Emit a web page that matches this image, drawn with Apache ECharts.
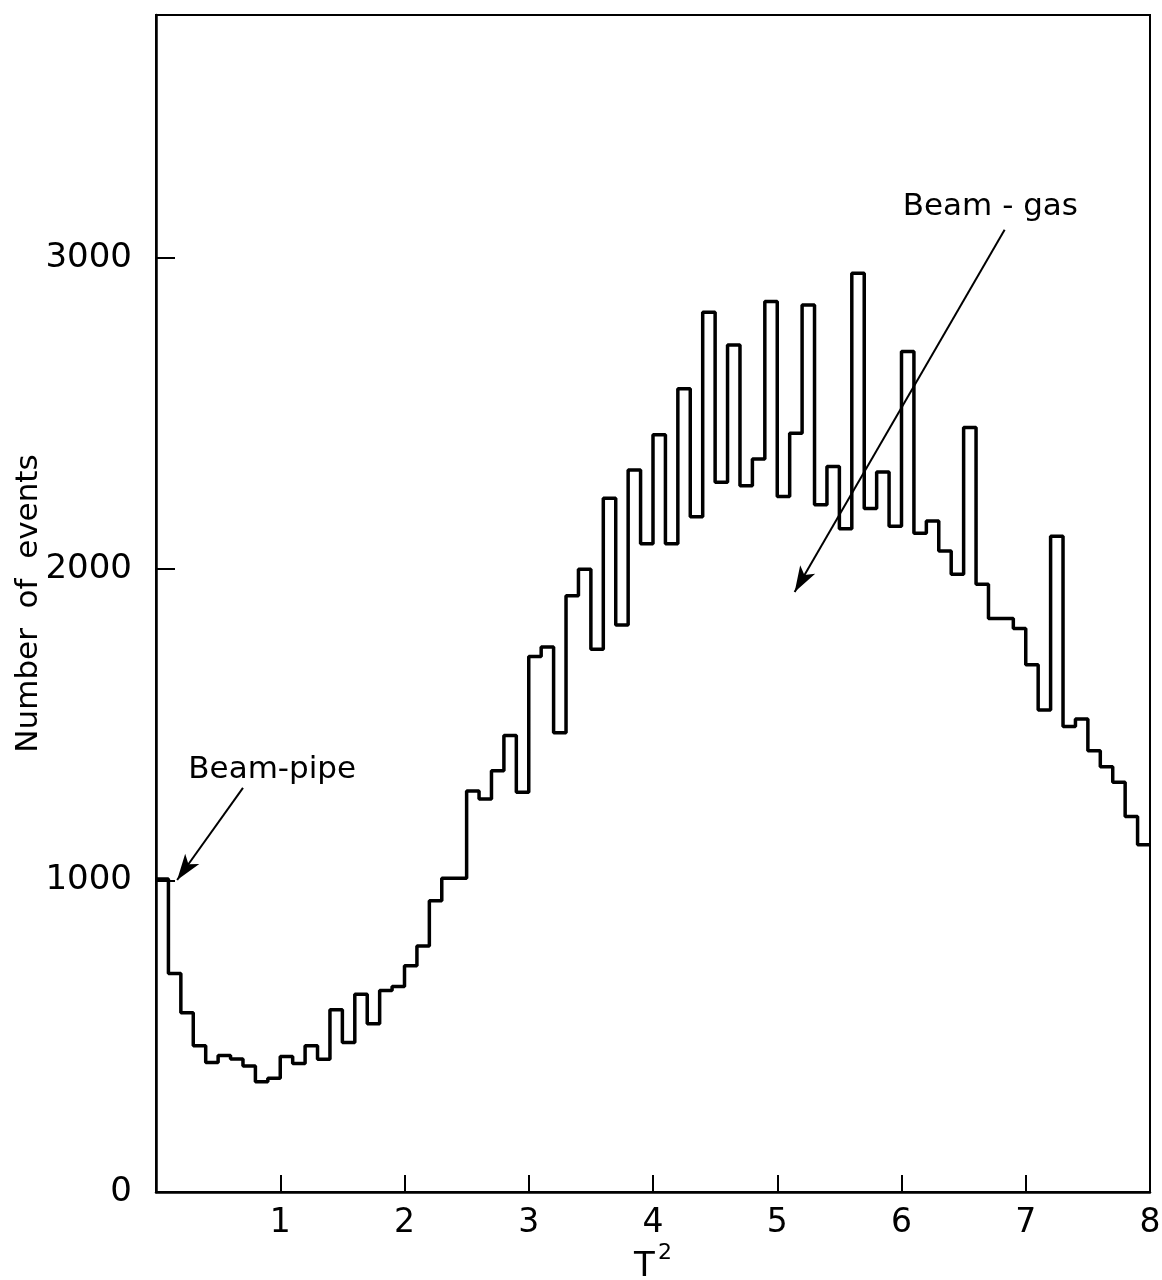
<!DOCTYPE html>
<html><head><meta charset="utf-8">
<script src="https://cdn.jsdelivr.net/npm/echarts@6/dist/echarts.min.js"></script>
<style>html,body{margin:0;padding:0;background:#fff}#c{width:1162px;height:1280px}</style>
</head><body><div id="c"></div>
<script>
// Histogram of T^2, bins of width 0.1 from 0 to 8
const binWidth = 0.1;
const binStart = 0;
const counts = [
  1005, 702, 576, 470, 416, 438, 427, 405, 354, 365,
  435, 413, 470, 426, 585, 480, 635, 540, 647, 660,
  727, 790, 935, 1008, 1008, 1288, 1262, 1353, 1466, 1284,
  1720, 1750, 1475, 1915, 2000, 1743, 2228, 1821, 2319, 2082,
  2432, 2082, 2580, 2169, 2825, 2279, 2720, 2268, 2354, 2860,
  2234, 2437, 2849, 2207, 2330, 2130, 2951, 2195, 2312, 2138,
  2699, 2116, 2155, 2059, 1984, 2455, 1952, 1842, 1842, 1810,
  1693, 1548, 2106, 1495, 1519, 1417, 1366, 1316, 1206, 1115
];
const xTickLabels = [1, 2, 3, 4, 5, 6, 7, 8];
const yTickLabels = [0, 1000, 2000, 3000];
const yTicks = [1000, 2000, 3000];
const annotationTexts = ['Beam-pipe', 'Beam - gas'];
const annotationAnchors = [[0.26, 1356], [6.01, 3164]];
const arrowStarts = [[0.70, 1298], [6.83, 3090]];
const arrowEnds = [[0.17, 1002], [5.14, 1927]];

const FONT = 'DejaVu Sans';
const stepData = counts.map((v, i) => [binStart + i * binWidth, v]);
stepData.push([binStart + counts.length * binWidth, counts[counts.length - 1]]);

const chart = echarts.init(document.getElementById('c'), null, {renderer: 'canvas'});
const option = {
  animation: false,
  backgroundColor: '#fff',
  grid: {left: 156, right: 12, top: 15, bottom: 88, show: true, borderColor: '#000', borderWidth: 2,
         backgroundColor: 'transparent', outerBoundsMode: 'none', containLabel: false},
  xAxis: {
    type: 'value', min: 0, max: 8, interval: 1,
    name: '{t|T}{s|2}', nameLocation: 'middle', nameGap: 50, nameMoveOverlap: false,
    nameTextStyle: {rich: {t: {fontFamily: FONT, fontSize: 34, color: '#000', verticalAlign: 'bottom'}, s: {fontFamily: FONT, fontSize: 22, color: '#000', verticalAlign: 'top', padding: [0, 0, 20, 3]}}},
    axisLine: {show: true, lineStyle: {color: '#000', width: 2.5}},
    axisTick: {show: true, inside: true, length: 17, lineStyle: {color: '#000', width: 2}, customValues: xTickLabels},
    axisLabel: {show: true, customValues: xTickLabels, formatter: v => String(v), fontFamily: FONT, fontSize: 33, color: '#000', margin: 15},
    splitLine: {show: false}
  },
  yAxis: {
    type: 'value', min: 0, max: 3780,
    name: 'Number  of  events', nameLocation: 'middle', nameGap: 112, nameRotate: 90, nameMoveOverlap: false,
    nameTextStyle: {fontFamily: FONT, fontSize: 31, color: '#000'},
    axisLine: {show: true, lineStyle: {color: '#000', width: 2.5}},
    axisTick: {show: true, inside: true, length: 19, lineStyle: {color: '#000', width: 2}, customValues: yTicks},
    axisLabel: {show: true, customValues: yTickLabels, formatter: v => String(v), fontFamily: FONT, fontSize: 34, color: '#000', margin: 24},
    splitLine: {show: false}
  },
  series: [{
    type: 'line', step: 'end', data: stepData, symbol: 'none',
    lineStyle: {color: '#000', width: 3.5}, clip: true,
    markLine: {
      silent: true, symbol: ['none', 'arrow'], symbolSize: [13, 26],
      lineStyle: {color: '#000', width: 2, type: 'solid'},
      label: {show: false},
      data: arrowStarts.map((s, i) => [{coord: s}, {coord: arrowEnds[i]}])
    }
  }]
};
chart.setOption(option);
const graphics = annotationTexts.map((t, i) => {
  const p = chart.convertToPixel({gridIndex: 0}, annotationAnchors[i]);
  return {type: 'text', x: p[0], y: p[1], style: {text: t, fontFamily: FONT, fontSize: 31, fill: '#000', textVerticalAlign: 'middle', textAlign: 'left'}};
});
chart.setOption({graphic: graphics});
</script></body></html>
